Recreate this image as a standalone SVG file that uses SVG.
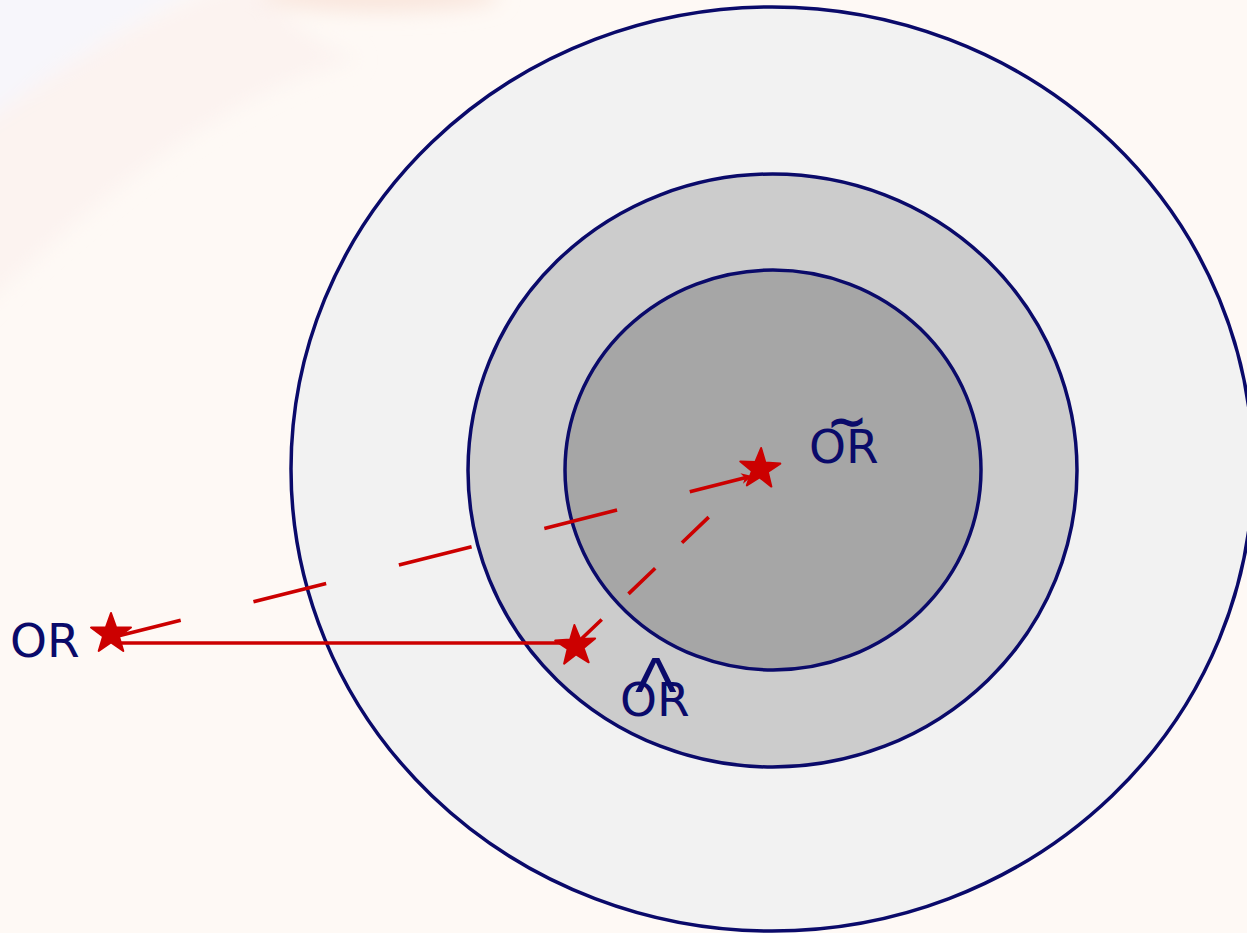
<svg xmlns="http://www.w3.org/2000/svg" width="1247" height="933" viewBox="0 0 1247 933">
<defs>
<style>
.ring{stroke:#0a0a6a;stroke-width:3.5}
.lbl{font-family:"DejaVu Sans",sans-serif;font-size:47px;fill:#0a0a6a}
.ray{stroke:#cc0000;stroke-width:3.6;fill:none}
.star{fill:#cc0000;stroke:#cc0000;stroke-width:2;stroke-linejoin:round}
</style>
<filter id="blur" x="-50%" y="-50%" width="200%" height="200%"><feGaussianBlur stdDeviation="10"/></filter>
<marker id="tip" viewBox="0 0 10 10" refX="6" refY="5" markerWidth="3" markerHeight="3" orient="auto" markerUnits="strokeWidth">
<path d="M0,0 L10,5 L0,10 L3,5 Z" fill="#cc0000"/>
</marker>
<polygon id="st" points="0,-21 5,-6.8 20,-6.5 8,2.5 12.3,17 0,8.4 -12.3,17 -8,2.5 -20,-6.5 -5,-6.8"/>
</defs>
<g id="background">
<rect width="1247" height="933" fill="#fef9f5"/>
<g filter="url(#blur)">
<path d="M-40,-40 L260,-40 Q120,20 -40,140 Z" fill="#f7f6fb"/>
<path d="M250,-20 Q300,40 360,60 Q200,90 -40,330 L-40,140 Q120,20 250,-20 Z" fill="#fcf3f0"/>
<ellipse cx="380" cy="-4" rx="120" ry="16" fill="#f9e6dd"/>
</g>
</g>
<g id="outer">
<ellipse class="ring" cx="772" cy="469" rx="481" ry="462" fill="#f2f2f2"/>
</g>
<g id="middle">
<ellipse class="ring" cx="772.5" cy="470.5" rx="304.5" ry="296.5" fill="#cccccc"/>
</g>
<g id="inner">
<ellipse class="ring" cx="773" cy="470" rx="208" ry="200" fill="#a6a6a6"/>
</g>
<g id="connectors">
<line class="ray" x1="575" y1="643" x2="115" y2="643"/>
<line class="ray" x1="108" y1="638.5" x2="748" y2="477" stroke-dasharray="75 75" marker-end="url(#tip)"/>
<line class="ray" x1="575" y1="645" x2="712" y2="514" stroke-dasharray="37 37"/>
</g>
<g id="star-OR">
<use href="#st" class="star" transform="translate(111,634)"/>
<text class="lbl" x="10" y="657">OR</text>
</g>
<g id="star-OR-hat">
<use href="#st" class="star" transform="translate(575.5,646) rotate(-3)"/>
<text class="lbl" x="620" y="716">OR</text>
<text class="lbl" x="656" y="692" font-size="36" text-anchor="middle" transform="translate(656 0) scale(1.3 1) translate(-656 0)">Λ</text>
</g>
<g id="star-OR-tilde">
<use href="#st" class="star" transform="translate(760,469) rotate(3)"/>
<text class="lbl" x="809" y="463">OR</text>
<text class="lbl" x="847" y="437" font-size="48" stroke="#0a0a6a" stroke-width="1.5" text-anchor="middle">~</text>
</g>
</svg>
